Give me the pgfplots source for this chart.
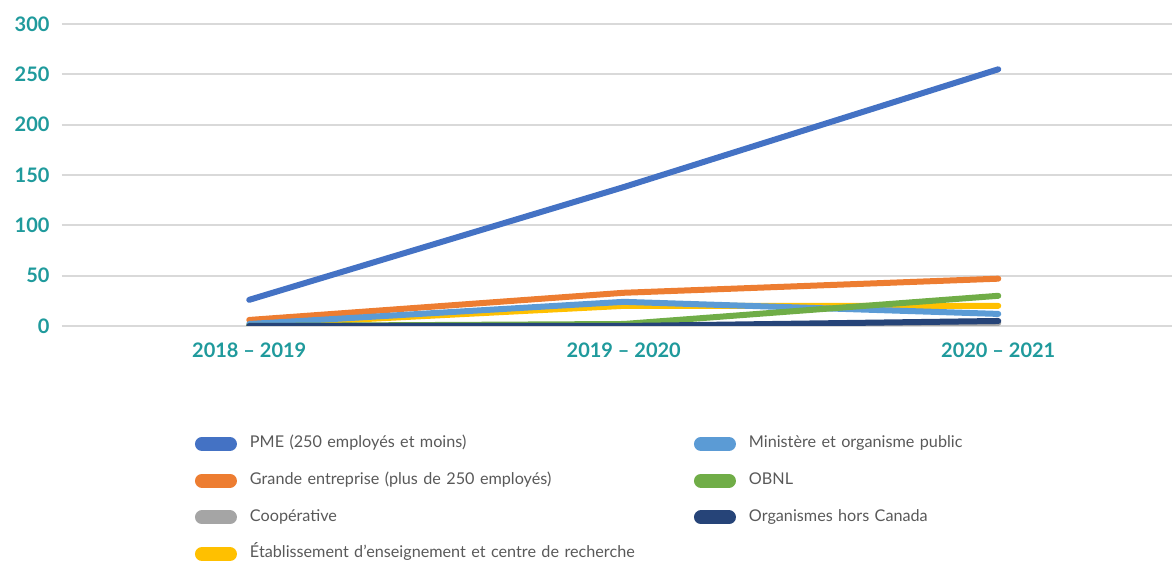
\documentclass[border=0pt]{standalone}
\usepackage{fontspec}
\setmainfont{Lato}
\usepackage{pgfplots}
\pgfplotsset{compat=1.18}
\definecolor{cPME}{HTML}{4472C4}
\definecolor{cGE}{HTML}{ED7D31}
\definecolor{cCOOP}{HTML}{A5A5A5}
\definecolor{cETAB}{HTML}{FFC000}
\definecolor{cMIN}{HTML}{5B9BD5}
\definecolor{cOBNL}{HTML}{70AD47}
\definecolor{cORG}{HTML}{264478}
\definecolor{teal}{RGB}{31,154,156}
\definecolor{legtext}{HTML}{595959}
\definecolor{gridc}{HTML}{D9D9D9}
\begin{document}
\begin{tikzpicture}
\begin{axis}[
  at={(0,0)}, anchor=south west,
  scale only axis, width=1110pt, height=302pt,
  xmin=-0.5, xmax=2.464, ymin=0, ymax=300,
  xtick={0,1,2}, xticklabels={2018 – 2019, 2019 – 2020, 2020 – 2021},
  ytick={0,50,100,150,200,250,300},
  ymajorgrids, major grid style={color=gridc, line width=2pt},
  axis line style={draw=none}, major tick length=0pt,
  /pgf/number format/assume math mode=true,
  ticklabel style={font=\fontsize{20}{24}\selectfont\bfseries, text=teal},
  xticklabel style={yshift=-13pt},
  yticklabel style={xshift=-9pt},
  every axis plot/.append style={line width=6pt, line cap=round, line join=round},
  legend columns=2,
  legend image code/.code={\path (0pt,0pt) (42pt,0pt); \draw[#1, line width=14pt, line cap=round] (7pt,0pt) -- (35pt,0pt);},
  legend style={draw=none, fill=none, inner sep=0pt, outer sep=0pt,
    at={(0.1171,-0.365)}, anchor=north west,
    font=\fontsize{16.2}{19}\selectfont, text=legtext,
    nodes={inner sep=0pt, text height=11.5pt, text depth=4pt},
    row sep=21.2pt,
    /tikz/every odd column/.append style={column sep=10pt},
    /tikz/every even column/.append style={column sep=41pt, text width=400pt, align=left}},
  legend cell align=left,
]
\addplot[cPME, forget plot] coordinates {(0,26) (1,138) (2,255)};
\addplot[cGE, forget plot] coordinates {(0,6) (1,33) (2,47)};
\addplot[cCOOP, forget plot] coordinates {(0,0) (1,0) (2,3)};
\addplot[cETAB, forget plot] coordinates {(0,1) (1,20) (2,20)};
\addplot[cMIN, forget plot] coordinates {(0,2) (1,24) (2,12)};
\addplot[cOBNL, forget plot] coordinates {(0,0) (1,2) (2,30)};
\addplot[cORG, forget plot] coordinates {(0,0) (1,0) (2,5)};
\addlegendimage{cPME}
\addlegendentry{PME (250 employés et moins)}
\addlegendimage{cMIN}
\addlegendentry{Ministère et organisme public}
\addlegendimage{cGE}
\addlegendentry{Grande entreprise (plus de 250 employés)}
\addlegendimage{cOBNL}
\addlegendentry{OBNL}
\addlegendimage{cCOOP}
\addlegendentry{Coopérative}
\addlegendimage{cORG}
\addlegendentry{Organismes hors Canada}
\addlegendimage{cETAB}
\addlegendentry{Établissement d\char39 enseignement et centre de recherche}
\end{axis}
\pgfresetboundingbox
\useasboundingbox (-62pt,-235pt) rectangle (1110pt,326pt);
\end{tikzpicture}
\end{document}
